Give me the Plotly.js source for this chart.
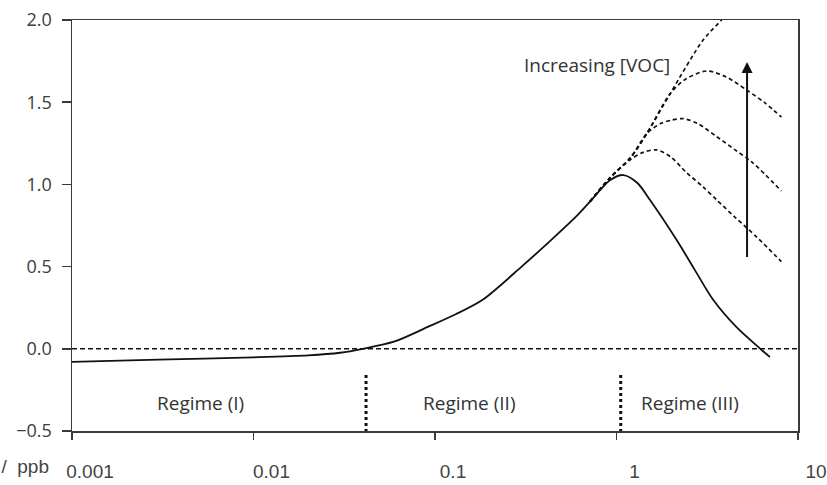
<!DOCTYPE html>
<html>
<head>
<meta charset="utf-8">
<script src="https://cdn.plot.ly/plotly-3.0.1.min.js"></script>
<style>html,body{margin:0;padding:0;background:#fff;}#chart{width:827px;height:485px;}</style>
</head>
<body>
<div id="chart"></div>
<script>
// x: NOx / ppb (log scale); y: net O3 production
const xTickVals = [0.001, 0.01, 0.1, 1, 10];
const xTickText = ['0.001', '0.01', '0.1', '1', '10'];
const yTickVals = [-0.5, 0.0, 0.5, 1.0, 1.5, 2.0];

const solidX = [0.001, 0.003, 0.01, 0.02, 0.03, 0.04, 0.06, 0.09, 0.13, 0.184, 0.3, 0.43, 0.6, 0.714, 0.92, 1.09, 1.3, 1.53, 2.15, 2.7, 3.4, 4.6, 6.2, 7.0];
const solidY = [-0.08, -0.066, -0.052, -0.04, -0.024, 0.0, 0.045, 0.13, 0.21, 0.30, 0.50, 0.655, 0.805, 0.895, 1.025, 1.057, 1.01, 0.905, 0.66, 0.48, 0.30, 0.13, 0.0, -0.05];

const lineX = [0.714, 0.92, 1.19, 1.47, 1.97, 3.0, 3.8];
const lineY = [0.895, 1.04, 1.16, 1.31, 1.55, 1.878, 2.0];

const curve1X = [0.714, 0.92, 1.19, 1.4, 1.665, 2.0, 2.44, 3.0, 3.57, 4.5, 5.92, 8.1];
const curve1Y = [0.895, 1.04, 1.15, 1.195, 1.21, 1.165, 1.07, 0.985, 0.905, 0.80, 0.68, 0.53];

const curve2X = [0.714, 0.92, 1.19, 1.47, 1.75, 2.0, 2.33, 2.8, 3.57, 4.5, 5.65, 8.1];
const curve2Y = [0.895, 1.04, 1.16, 1.31, 1.37, 1.39, 1.40, 1.37, 1.29, 1.21, 1.13, 0.96];

const curve3X = [0.714, 0.92, 1.19, 1.47, 1.97, 2.4, 3.14, 4.0, 5.21, 6.5, 8.1];
const curve3Y = [0.895, 1.04, 1.16, 1.31, 1.55, 1.64, 1.69, 1.655, 1.574, 1.50, 1.41];

const zeroX = [0.001, 10];
const zeroY = [0, 0];

const regimeBounds = [0.0417, 1.055];
const regimeBoundY = [-0.16, -0.5];
const regimeLabels = ['Regime (I)', 'Regime (II)', 'Regime (III)'];
const regimeLabelX = [0.0051, 0.155, 2.55];
const regimeLabelY = -0.33;

const arrowX = 5.24;
const arrowFromY = 0.55;
const arrowToY = 1.745;
const vocLabel = 'Increasing [VOC]';
const vocLabelX = 0.78;
const vocLabelY = 1.726;

const xTitle = 'NO<sub>x</sub> /&nbsp;&nbsp;ppb';

const ink = '#111';
const traces = [
  {x: zeroX, y: zeroY, mode: 'lines', line: {color: ink, width: 1.6, dash: '5px,3px'}, hoverinfo: 'skip'},
  {x: [regimeBounds[0], regimeBounds[0]], y: regimeBoundY, mode: 'lines', line: {color: ink, width: 3, dash: '3px,3px'}, hoverinfo: 'skip'},
  {x: [regimeBounds[1], regimeBounds[1]], y: regimeBoundY, mode: 'lines', line: {color: ink, width: 3, dash: '3px,3px'}, hoverinfo: 'skip'},
  {x: lineX, y: lineY, mode: 'lines', line: {color: ink, width: 1.7, dash: '4px,3px', shape: 'spline', smoothing: 0.8}},
  {x: curve3X, y: curve3Y, mode: 'lines', line: {color: ink, width: 1.7, dash: '4px,3px', shape: 'spline', smoothing: 0.8}},
  {x: curve2X, y: curve2Y, mode: 'lines', line: {color: ink, width: 1.7, dash: '4px,3px', shape: 'spline', smoothing: 0.8}},
  {x: curve1X, y: curve1Y, mode: 'lines', line: {color: ink, width: 1.7, dash: '4px,3px', shape: 'spline', smoothing: 0.8}},
  {x: solidX, y: solidY, mode: 'lines', line: {color: ink, width: 1.8, shape: 'spline', smoothing: 0.8}}
];

const annotations = regimeLabels.map((t, i) => ({
  x: Math.log10(regimeLabelX[i]), y: regimeLabelY, xref: 'x', yref: 'y',
  text: t, showarrow: false, xanchor: 'center', yanchor: 'middle',
  font: {family: 'Open Sans', size: 19, color: '#333'}
}));
annotations.push({
  x: Math.log10(vocLabelX), y: vocLabelY, xref: 'x', yref: 'y', text: vocLabel,
  showarrow: false, xanchor: 'center', yanchor: 'middle',
  font: {family: 'Open Sans', size: 19, color: '#333'}
});
annotations.push({
  x: Math.log10(arrowX), y: arrowToY, xref: 'x', yref: 'y', text: '',
  showarrow: true, axref: 'x', ayref: 'y', ax: Math.log10(arrowX), ay: arrowFromY,
  arrowhead: 2, arrowsize: 1.1, arrowwidth: 2, arrowcolor: ink, standoff: 0, startstandoff: 0
});
annotations.push({
  x: -0.029, y: -0.09, xref: 'paper', yref: 'paper', text: xTitle,
  showarrow: false, xanchor: 'right', yanchor: 'middle',
  font: {family: 'Liberation Sans', size: 19, color: '#444'}
});

const layout = {
  width: 827, height: 485,
  margin: {l: 72, r: 29, t: 20, b: 54},
  paper_bgcolor: '#fff', plot_bgcolor: '#fff',
  showlegend: false,
  xaxis: {
    type: 'log', range: [-3, 1], tickmode: 'array', tickvals: xTickVals, ticktext: xTickText,
    showgrid: false, zeroline: false, showline: true, mirror: true, linecolor: '#3a3a3a', linewidth: 1.5,
    ticks: 'outside', ticklen: 7, tickwidth: 1.5, tickcolor: '#3a3a3a',
    ticklabelshift: 18, ticklabelstandoff: 16, ticklabeloverflow: 'allow',
    tickfont: {family: 'Liberation Sans', size: 19, color: '#444'}
  },
  yaxis: {
    range: [-0.5, 2.0], tickmode: 'array', tickvals: yTickVals, tickformat: '.1f',
    showgrid: false, zeroline: false, showline: true, mirror: true, linecolor: '#3a3a3a', linewidth: 1.5,
    ticks: 'outside', ticklen: 9, tickwidth: 1.5, tickcolor: '#3a3a3a',
    ticklabelstandoff: 6,
    tickfont: {family: 'Open Sans', size: 18, color: '#3c3c3c'}
  },
  annotations: annotations
};

Plotly.newPlot('chart', traces, layout, {displayModeBar: false, staticPlot: true});
</script>
</body>
</html>
